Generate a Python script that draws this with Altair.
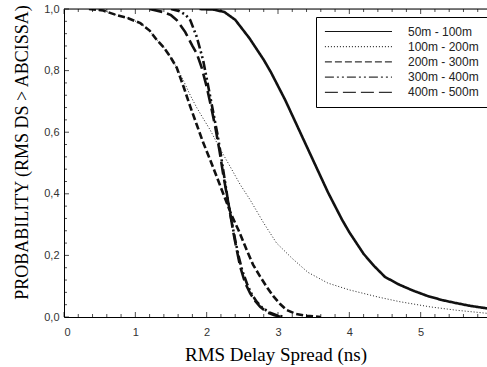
import altair as alt
import pandas as pd

series_names = ["50m - 100m", "100m - 200m", "200m - 300m", "300m - 400m", "400m - 500m"]

# 50m - 100m (solid)
x_s1 = [1.9, 2.1, 2.25, 2.4, 2.5, 2.6, 2.7, 2.8, 2.9, 3.0, 3.1, 3.2, 3.3, 3.4, 3.5, 3.6, 3.7,
        3.8, 3.9, 4.0, 4.1, 4.2, 4.35, 4.5, 4.7, 4.9, 5.1, 5.3, 5.5, 5.7, 5.93]
y_s1 = [1.0, 0.998, 0.99, 0.965, 0.935, 0.905, 0.87, 0.835, 0.795, 0.75, 0.705, 0.655, 0.605,
        0.555, 0.505, 0.455, 0.405, 0.36, 0.315, 0.275, 0.24, 0.205, 0.165, 0.13, 0.105, 0.085,
        0.068, 0.055, 0.045, 0.036, 0.028]

# 100m - 200m (dotted)
x_s2 = [0.35, 0.55, 0.74, 0.9, 1.07, 1.2, 1.3, 1.4, 1.49, 1.58, 1.67, 1.77, 1.86, 1.95, 2.05,
        2.19, 2.33, 2.47, 2.61, 2.8, 2.98, 3.2, 3.42, 3.7, 4.0, 4.4, 4.7, 5.13, 5.5, 5.93]
y_s2 = [1.0, 0.995, 0.98, 0.97, 0.954, 0.93, 0.9, 0.875, 0.845, 0.81, 0.77, 0.72, 0.68, 0.645,
        0.607, 0.545, 0.488, 0.43, 0.38, 0.305, 0.24, 0.19, 0.145, 0.11, 0.088, 0.065, 0.05,
        0.033, 0.022, 0.012]

# 200m - 300m (dashed)
x_s3 = [0.35, 0.55, 0.74, 0.9, 1.07, 1.2, 1.3, 1.4, 1.49, 1.58, 1.68, 1.77, 1.86, 1.95, 2.05,
        2.15, 2.25, 2.35, 2.45, 2.56, 2.65, 2.75, 2.85, 2.94, 3.03, 3.12, 3.25, 3.4, 3.6]
y_s3 = [1.0, 0.995, 0.98, 0.97, 0.954, 0.93, 0.9, 0.875, 0.845, 0.81, 0.745, 0.683, 0.625,
        0.567, 0.51, 0.45, 0.39, 0.33, 0.28, 0.218, 0.17, 0.131, 0.095, 0.066, 0.042, 0.023,
        0.01, 0.004, 0.0]

# 300m - 400m (dash-dot-dot)
x_s4 = [1.5, 1.62, 1.7, 1.77, 1.86, 1.95, 2.0, 2.05, 2.1, 2.15, 2.2, 2.25, 2.3, 2.35, 2.4,
        2.45, 2.5, 2.57, 2.63, 2.7, 2.78, 2.88, 2.98, 3.1]
y_s4 = [1.0, 0.993, 0.982, 0.964, 0.91, 0.834, 0.775, 0.715, 0.655, 0.595, 0.525, 0.45, 0.375,
        0.31, 0.25, 0.195, 0.15, 0.105, 0.075, 0.05, 0.03, 0.015, 0.006, 0.0]

# 400m - 500m (long dash)
x_s5 = [1.2, 1.39, 1.5, 1.58, 1.7, 1.8, 1.86, 1.93, 2.0, 2.06, 2.12, 2.18, 2.23, 2.28, 2.33,
        2.37, 2.42, 2.47, 2.54, 2.61, 2.68, 2.75, 2.85, 2.95, 3.05]
y_s5 = [1.0, 0.99, 0.98, 0.964, 0.925, 0.88, 0.856, 0.81, 0.748, 0.685, 0.618, 0.54, 0.466,
        0.4, 0.337, 0.28, 0.22, 0.163, 0.11, 0.077, 0.052, 0.033, 0.015, 0.006, 0.0]

x_major = [0, 1, 2, 3, 4, 5]
x_minor = [v / 5 for v in range(0, 30) if v % 5 != 0]
y_major = [0.0, 0.2, 0.4, 0.6, 0.8, 1.0]
y_minor = [v / 25 for v in range(0, 26) if v % 5 != 0]

rows = []
for name, xs, ys in zip(series_names, [x_s1, x_s2, x_s3, x_s4, x_s5],
                        [y_s1, y_s2, y_s3, y_s4, y_s5]):
    for i, (xv, yv) in enumerate(zip(xs, ys)):
        rows.append({"series": name, "ds": xv, "p": yv, "order": i})
df = pd.DataFrame(rows)

dash_range = [[1, 0], [1, 2], [7, 3], [9, 3, 2, 3, 2, 3], [13, 5]]

x_scale = alt.Scale(domain=[0, 5.93], nice=False, zero=False)
y_scale = alt.Scale(domain=[0, 1], nice=False, zero=False)

label_font = "Liberation Sans"
title_font = "Liberation Serif"

x_enc = alt.X("ds:Q", scale=x_scale,
              axis=alt.Axis(title="RMS Delay Spread (ns)", values=x_major, format="d",
                            ticks=False, grid=False, domain=True, domainColor="black",
                            labelPadding=9, labelFont=label_font, labelFontSize=11,
                            labelColor="#333333", titleFont=title_font, titleFontSize=19,
                            titleFontWeight="normal", titleColor="black",
                            titleBaseline="alphabetic", titleY=43))
y_enc = alt.Y("p:Q", scale=y_scale,
              axis=alt.Axis(title="PROBABILITY (RMS DS > ABCISSA)", values=y_major,
                            labelExpr="replace(format(datum.value, '.1f'), '.', ',')",
                            ticks=False, grid=False, domain=True, domainColor="black",
                            labelPadding=5, labelFont=label_font, labelFontSize=11,
                            labelColor="#333333", titleFont=title_font, titleFontSize=18,
                            titleFontWeight="normal", titleColor="black",
                            titleBaseline="alphabetic", titleAngle=270, titleX=-37,
                            titleY=143, titleAlign="center"))

legend = alt.Legend(title=None, orient="none", legendX=252, legendY=8,
                    symbolType="M-1,0H11", symbolSize=125, symbolStrokeWidth=1,
                    symbolStrokeColor="black", labelFont=label_font,
                    labelFontSize=12, labelColor="#222222", labelOffset=71,
                    strokeColor="black", fillColor="white", padding=8,
                    rowPadding=2.2, cornerRadius=0)

dash_enc = alt.StrokeDash("series:N",
                          scale=alt.Scale(domain=series_names, range=dash_range),
                          legend=legend)

thick = alt.Chart(df).transform_filter(
    alt.datum.series != "100m - 200m"
).mark_line(clip=True, color="#111111", strokeWidth=2.6).encode(
    x=x_enc, y=y_enc, strokeDash=dash_enc, order="order:Q")

thin = alt.Chart(df).transform_filter(
    alt.datum.series == "100m - 200m"
).mark_line(clip=True, color="#222222", strokeWidth=1.0).encode(
    x=x_enc, y=y_enc, strokeDash=dash_enc, order="order:Q")

top_line = alt.Chart(pd.DataFrame({"v": [1.0]})).mark_rule(color="black", strokeWidth=1).encode(
    y=alt.Y("v:Q", scale=y_scale))

df_xmaj = pd.DataFrame({"t": x_major})
df_xmin = pd.DataFrame({"t": x_minor})
df_ymaj = pd.DataFrame({"t": y_major})
df_ymin = pd.DataFrame({"t": y_minor})


def xticks(d, size, yc):
    return alt.Chart(d).mark_tick(orient="vertical", color="black", thickness=1, size=size).encode(
        x=alt.X("t:Q", scale=x_scale), y=alt.value(yc))


def yticks(d, size, xc):
    return alt.Chart(d).mark_tick(orient="horizontal", color="black", thickness=1, size=size).encode(
        y=alt.Y("t:Q", scale=y_scale), x=alt.value(xc))


H = 308
ticks = [
    xticks(df_xmaj, 5, H - 2.5), xticks(df_xmin, 3, H - 1.5),
    xticks(df_xmaj, 5, 2.5), xticks(df_xmin, 3, 1.5),
    yticks(df_ymaj, 5, 2.5), yticks(df_ymin, 3, 1.5),
]

chart = alt.layer(thin, thick, top_line, *ticks).properties(
    width=423, height=H,
    autosize=alt.AutoSizeParams(type="none"),
    padding={"left": 64, "top": 9, "right": 0, "bottom": 50},
).configure_view(stroke=None).configure(background="white")

chart.save("out.html", embed_options={"renderer": "svg", "actions": False})
